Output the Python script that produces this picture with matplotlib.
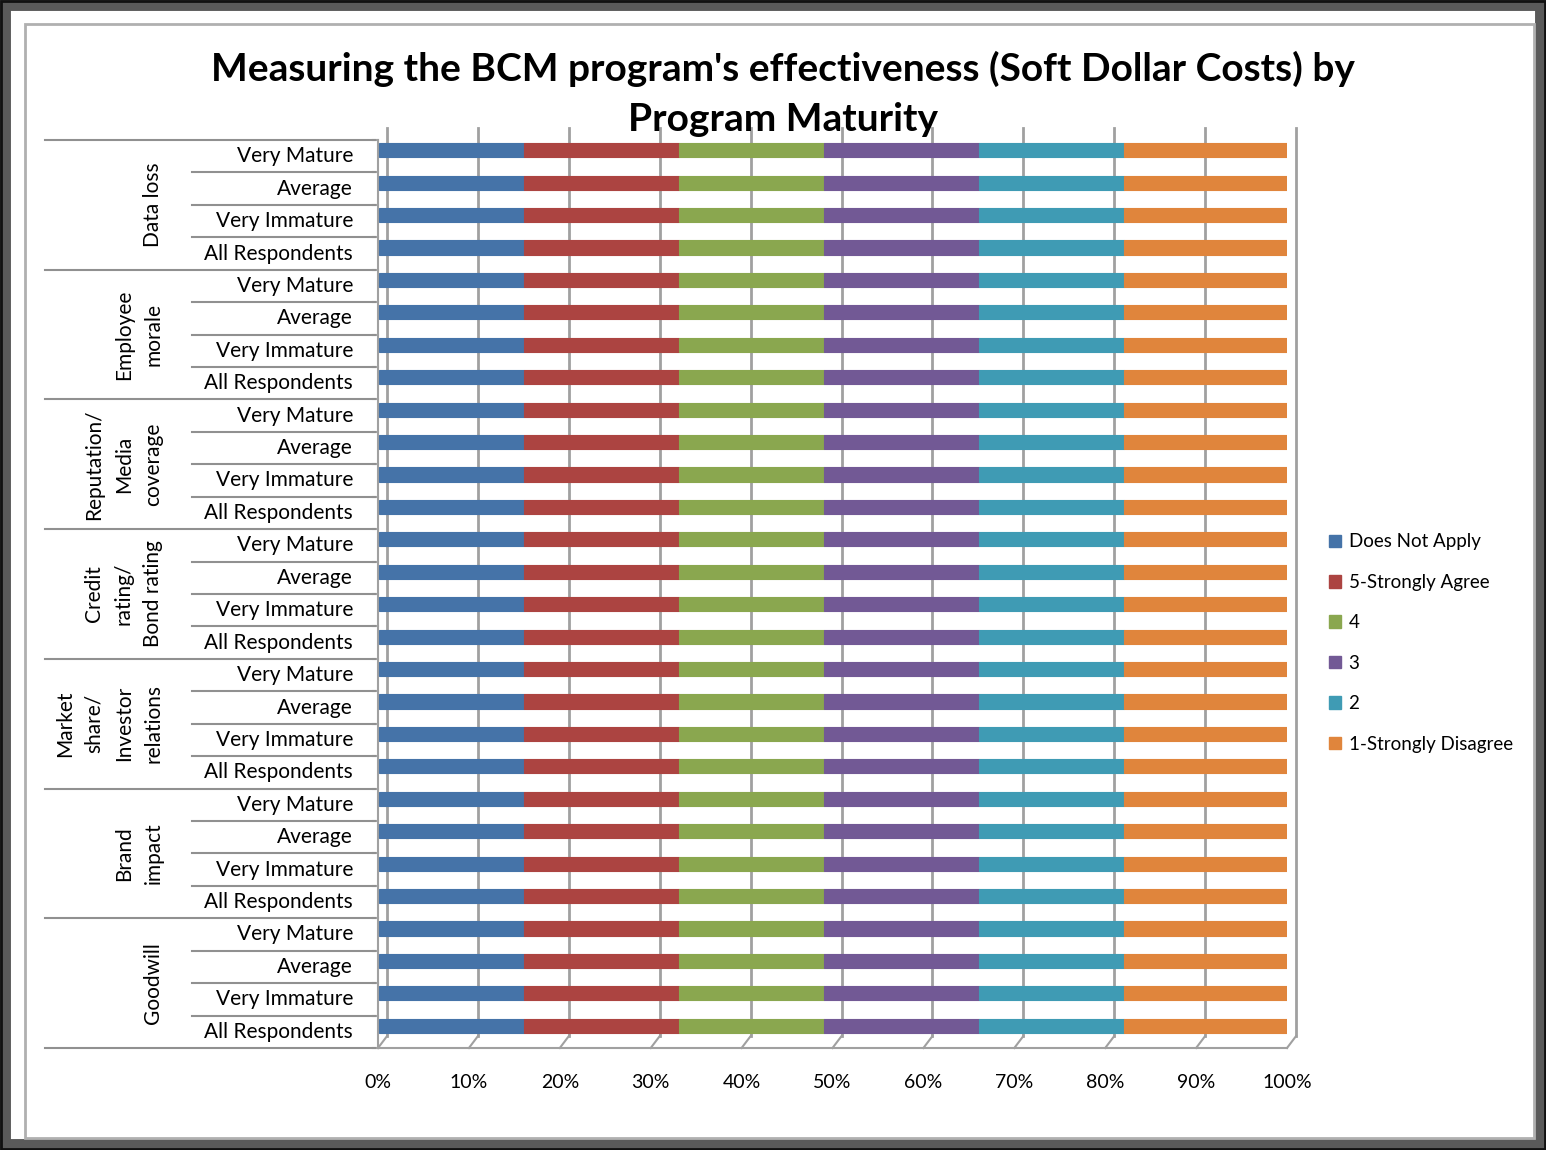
import numpy as np
import matplotlib
matplotlib.use("Agg")
import matplotlib.pyplot as plt
from matplotlib.patches import Rectangle, Patch
from matplotlib import transforms

plt.rcParams['font.family'] = ['Lato', 'DejaVu Sans']

# data
groups = ["Data loss", "Employee\nmorale", "Reputation/\nMedia\ncoverage",
          "Credit\nrating/\nBond rating", "Market\nshare/\nInvestor\nrelations",
          "Brand\nimpact", "Goodwill"]
levels = ["Very Mature", "Average", "Very Immature", "All Respondents"]
series = ["Does Not Apply", "5-Strongly Agree", "4", "3", "2", "1-Strongly Disagree"]
colors = ["#4573a8", "#ac4441", "#8aa74f", "#725995", "#3f9bb4", "#e0853c"]
# share of answers (%) per row (every row looks the same)
row_values = [16, 17, 16, 17, 16, 18]
values = np.array([row_values for _ in range(len(groups) * len(levels))], dtype=float)

W, H = 1546, 1150
fig = plt.figure(figsize=(W / 100, H / 100), dpi=100)

# frame around the chart
fig.patches.append(Rectangle((4 / W, 4 / H), 1 - 8 / W, 1 - 8 / H, transform=fig.transFigure,
                             fill=False, ec="#5a5a5a", lw=10))
fig.patches.append(Rectangle((1 / W, 1 / H), 1 - 2 / W, 1 - 2 / H, transform=fig.transFigure,
                             fill=False, ec="#111111", lw=2))
fig.patches.append(Rectangle((25 / W, 12 / H), 1 - 37 / W, 1 - 36 / H, transform=fig.transFigure,
                             fill=False, ec="#b0b0b0", lw=2))

x0, x1, ytop, ybot = 378, 1287, 140, 1048
ax = fig.add_axes([x0 / W, 1 - ybot / H, (x1 - x0) / W, (ybot - ytop) / H])
n = values.shape[0]
ax.set_xlim(0, 100)
ax.set_ylim(n - 0.5, -0.5)
for s in ax.spines.values():
    s.set_visible(False)
ax.set_yticks([])
ax.set_xticks(np.arange(0, 101, 10))
ax.set_xticklabels([f"{t}%" for t in range(0, 101, 10)], fontsize=14)
ax.tick_params(axis='x', length=0, pad=19)

# back wall (3d look)
back = transforms.offset_copy(ax.transData, fig=fig, x=9, y=12, units='dots')
gx = np.arange(0, 101, 10)
for g in gx:
    ax.plot([g, g], [n - 0.5, -0.5], color="#a0a0a0", lw=2, transform=back, clip_on=False, zorder=0)
    ax.plot([g, g + 1.0], [n - 0.5, n - 0.5 - 0.37], color="#a0a0a0", lw=1.5, clip_on=False, zorder=0)
ax.plot([0, 100], [n - 0.5, n - 0.5], color="#a0a0a0", lw=1.5, clip_on=False, zorder=0)
ax.plot([0, 0], [n - 0.5, -0.5], color="#a0a0a0", lw=1.5, clip_on=False, zorder=0)
for i in range(n + 1):
    ax.plot([-0.6, 0], [i - 0.5, i - 0.5], color="#a0a0a0", lw=1.5, clip_on=False, zorder=0)

# bars
bar_tr = transforms.offset_copy(ax.transData, fig=fig, x=1, y=6, units='dots')
y = np.arange(n)
left = np.zeros(n)
for j, name in enumerate(series):
    ax.barh(y, values[:, j], left=left, height=0.44, color=colors[j], ec=colors[j],
            lw=0.8, transform=bar_tr, zorder=3)
    left += values[:, j]

# category labels
for i in range(n):
    ax.text(-2.75, i, levels[i % 4], ha='right', va='center', fontsize=15, clip_on=False)
for i in range(n + 1):
    xs = -36.6 if i % 4 == 0 else -20.5
    ax.plot([xs, -0.35], [i - 0.5, i - 0.5], color="#909090", lw=1.5, clip_on=False)
for k, g in enumerate(groups):
    ax.text(-23.6, 4 * k + 1.5, g, rotation=90, ha='right', va='center',
            multialignment='center', fontsize=15, linespacing=1.6, clip_on=False)

fig.text(783 / W, 1 - 94 / H,
         "Measuring the BCM program's effectiveness (Soft Dollar Costs) by\nProgram Maturity",
         ha='center', va='center', fontsize=28, fontweight='bold', linespacing=1.5)

handles = [Patch(fc=c, ec=c) for c in colors]
fig.legend(handles, series, loc='center left', bbox_to_anchor=(1312 / W, 1 - 643 / H),
           frameon=False, fontsize=13.5, handlelength=0.65, handleheight=0.65,
           handletextpad=0.4, labelspacing=1.25)

fig.savefig("out.png", dpi=100, facecolor="white")
